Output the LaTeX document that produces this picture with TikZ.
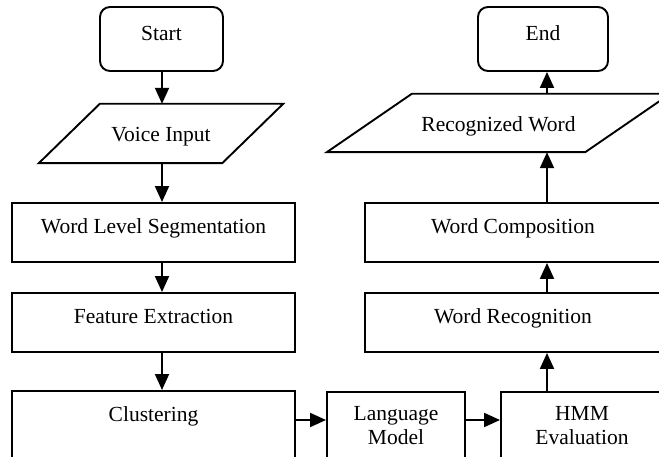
\documentclass[tikz,border=0pt]{standalone}
\usepackage{fontspec}
\setmainfont{Liberation Serif}
\usetikzlibrary{arrows.meta}
\begin{document}
\begin{tikzpicture}[x=1pt,y=-1pt,
  lw/.style={line width=1.9pt},
  box/.style={draw,lw,rectangle,inner sep=0pt,font=\fontsize{21.5}{23}\selectfont,text height=13pt,text depth=11pt},
  term/.style={box,rounded corners=10pt,text height=13pt,text depth=10pt},
  plain/.style={inner sep=0pt,font=\fontsize{21.5}{23.5}\selectfont,align=center},
  slanted/.style={plain,text height=17pt,text depth=0pt},
  arr/.style={lw,-{Triangle[width=14pt,length=16pt]}}]
\path[use as bounding box] (0,0) rectangle (659,457);
\clip (0,0) rectangle (659,457);
\coordinate (colL) at (162,0);
\coordinate (colR) at (547,0);
\coordinate (row) at (0,420);
% left column
\node[term,minimum width=123pt,minimum height=64pt] (start) at (161.5,39) {Start};
\node[slanted,minimum width=183pt,minimum height=59pt] (voice) at (161,133.5) {Voice Input};
\draw[lw] ([xshift=-30.5pt]voice.south west) -- ([xshift=-30.5pt]voice.south east)
  -- ([xshift=30.5pt]voice.north east) -- ([xshift=30.5pt]voice.north west) -- cycle;
\node[box,minimum width=283pt,minimum height=59pt] (wls) at (153.5,232.5) {Word Level Segmentation};
\node[box,minimum width=283pt,minimum height=59pt] (fe) at (153.5,322.5) {Feature Extraction};
\node[box,minimum width=283pt,minimum height=100pt,anchor=north] (clu) at (153.5,390) {};
\node[plain] (cluT) at (153.5,416) {Clustering};
% bottom middle
\node[box,minimum width=138pt,minimum height=100pt,anchor=north] (lm) at (396,391) {};
\node[plain] (lmT) at (396,425.6) {Language\\Model};
\node[box,minimum width=162pt,minimum height=100pt,anchor=north] (hmm) at (582,391) {};
\node[plain] (hmmT) at (582,425.6) {HMM\\Evaluation};
% right column
\node[box,minimum width=296pt,minimum height=59pt] (wr) at (513,322.5) {Word Recognition};
\node[box,minimum width=296pt,minimum height=59pt] (wc) at (513,232.5) {Word Composition};
\node[slanted,minimum width=258pt,minimum height=58pt] (rw) at (498.5,123) {Recognized Word};
\draw[lw] ([xshift=-42.5pt]rw.south west) -- ([xshift=-42.5pt]rw.south east)
  -- ([xshift=42.5pt]rw.north east) -- ([xshift=42.5pt]rw.north west) -- cycle;
\node[term,minimum width=130pt,minimum height=64pt] (end) at (543,39) {End};
% connectors
\draw[arr] (start.south -| colL) -- (voice.north -| colL);
\draw[arr] (voice.south -| colL) -- (wls.north -| colL);
\draw[arr] (wls.south -| colL) -- (fe.north -| colL);
\draw[arr] (fe.south -| colL) -- (clu.north -| colL);
\draw[arr] (clu.east |- row) -- (lm.west |- row);
\draw[arr] (lm.east |- row) -- (hmm.west |- row);
\draw[arr] (hmm.north -| colR) -- (wr.south -| colR);
\draw[arr] (wr.north -| colR) -- (wc.south -| colR);
\draw[arr] (wc.north -| colR) -- (rw.south -| colR);
\draw[arr] (rw.north -| colR) -- (end.south -| colR);
\end{tikzpicture}
\end{document}
